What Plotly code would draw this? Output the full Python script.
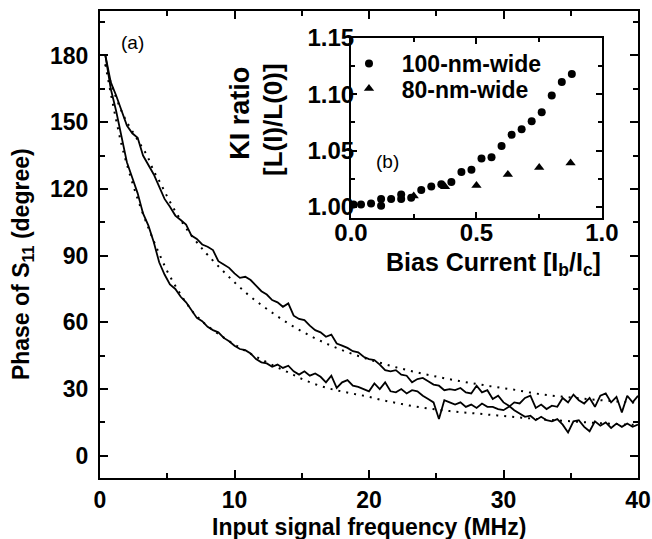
import plotly.graph_objects as go

# ---------------- data ----------------
freq = [0.4, 0.8, 1.2, 1.6, 2.0, 2.4, 2.8, 3.2, 3.6, 4.0,
        4.4, 4.8, 5.2, 5.6, 6.0, 6.4, 6.8, 7.2, 7.6, 8.0,
        8.4, 8.8, 9.2, 9.6, 10.0, 10.4, 10.8, 11.2, 11.6, 12.0,
        12.4, 12.8, 13.2, 13.6, 14.0, 14.4, 14.8, 15.2, 15.6, 16.0,
        16.4, 16.8, 17.2, 17.6, 18.0, 18.4, 18.8, 19.2, 19.6, 20.0,
        20.4, 20.8, 21.2, 21.6, 22.0, 22.4, 22.8, 23.2, 23.6, 24.0,
        24.4, 24.8, 25.2, 25.6, 26.0, 26.4, 26.8, 27.2, 27.6, 28.0,
        28.4, 28.8, 29.2, 29.6, 30.0, 30.4, 30.8, 31.2, 31.6, 32.0,
        32.4, 32.8, 33.2, 33.6, 34.0, 34.4, 34.8, 35.2, 35.6, 36.0,
        36.4, 36.8, 37.2, 37.6, 38.0, 38.4, 38.8, 39.2, 39.6, 40.0]

phase_a = [180, 168, 162, 155, 148.5, 145, 143, 135, 131, 126.5,
           121, 115.5, 112, 108, 106, 104, 99, 97.5, 95, 94,
           92.5, 87.5, 86, 84.5, 82, 80, 80.5, 79, 76.5, 74,
           72.5, 70, 69, 67, 68.5, 63, 61.5, 61, 58.5, 56.5,
           55.5, 53.5, 54.5, 50.5, 49.5, 48.5, 47, 46.5, 44.5, 43.5,
           43, 41, 38.5, 38, 38.5, 36.5, 36, 33, 34.5, 35,
           33.5, 32, 31.5, 29.5, 30, 29.5, 30.5, 28.5, 28, 31.5,
           28.5, 29.5, 25.5, 27, 24, 22.5, 20.5, 19, 17.5, 18,
           16, 17.5, 16, 15.5, 16.5, 14, 10.5, 15.5, 16, 13,
           11, 15.5, 13.5, 15, 12.5, 14.5, 13, 14.5, 13, 14]

phase_b = [180, 165, 155, 143, 132, 125, 118, 109, 103.5, 96,
           87, 81.5, 77, 75, 71.5, 69, 65.5, 62, 60.5, 58,
           56.5, 55.5, 53, 51.5, 49.5, 48, 47.5, 46, 43.5, 42,
           41.5, 40, 41, 39.5, 40.5, 38, 36.5, 38, 36, 37,
           35.5, 33, 36, 30.5, 33, 34, 31.5, 31, 30, 29,
           32.5, 30, 33, 29, 28.5, 30, 28, 29.5, 29, 27,
           25.5, 24, 16.5, 25, 24, 23, 24, 22, 23, 21.5,
           23.5, 22, 22, 21, 20.5, 22, 24, 23.5, 26, 27,
           21.5, 23, 21, 22.5, 22, 26, 24, 27.5, 25, 23.5,
           26, 22, 27, 28, 24, 26.5, 19.5, 27, 24, 27]

fit_freq = [0.4, 0.8, 1.2, 1.6, 2.0, 2.5, 3.0, 3.5, 4.0, 4.5, 5.0, 5.5, 6.0, 6.5,
            7.0, 7.5, 8.0, 9, 10, 11, 12, 13, 14, 15, 16, 17, 18, 19, 20, 21, 22,
            23, 24, 25, 26, 27, 28, 29, 30, 31, 32, 33, 34, 35, 36, 37, 38, 39, 40]
fit_a = [176, 168, 161, 155, 150, 145, 140, 135, 128, 122.5, 116.5, 111, 106, 101.5,
         97.5, 93.8, 90.3, 84, 78, 72.5, 67.8, 63.5, 59.5, 56, 52.8, 50, 47.5, 45.3,
         43.3, 41.5, 39.8, 38.3, 36.9, 35.6, 34.4, 33.3, 32.3, 31.3, 30.4, 29.5, 28.4,
         27.5, 26.8, 26.2, 25.6, 25.1, 24.6, 24.2, 23.8]
fit_b = [176, 163, 151, 140, 131, 121, 112, 104, 96.5, 89.5, 83, 77.5, 72.5, 68,
         64, 61, 58.3, 54, 50, 46.5, 43.3, 40.3, 37.5, 34.6, 32.2, 30.3, 28.9, 27.7,
         26.5, 25, 23.8, 22.6, 21.6, 20.8, 20.1, 19.5, 19, 18.4, 17.9, 17.3, 16.8,
         16.3, 15.9, 15.5, 15.1, 14.7, 14.4, 14.1, 13.8]

bias_100 = [0.01, 0.04, 0.08, 0.12, 0.12, 0.16, 0.20, 0.20, 0.24, 0.28, 0.32, 0.36,
            0.40, 0.44, 0.48, 0.52, 0.56, 0.60, 0.64, 0.68, 0.72, 0.76, 0.80, 0.84, 0.88]
kl_100 = [1.002, 1.002, 1.003, 1.007, 1.001, 1.007, 1.011, 1.007, 1.008, 1.015, 1.018,
          1.020, 1.022, 1.031, 1.033, 1.043, 1.044, 1.054, 1.064, 1.069, 1.076, 1.084,
          1.099, 1.111, 1.118]
bias_80 = [0.25, 0.375, 0.5, 0.625, 0.75, 0.875]
kl_80 = [1.0096, 1.0177, 1.019, 1.0288, 1.035, 1.039]

x_ticks_main = [0, 10, 20, 30, 40]
y_ticks_main = [0, 30, 60, 90, 120, 150, 180]

# ---------------- figure ----------------
FONT = "Liberation Sans, Arial, sans-serif"
BOLD = dict(family=FONT, size=23, color="black", weight="bold")
BOLD24 = dict(family=FONT, size=24, color="black", weight="bold")

fig = go.Figure()
for ys in (phase_a, phase_b):
    fig.add_trace(go.Scatter(x=freq, y=ys, mode="lines",
                             line=dict(color="black", width=1.8),
                             showlegend=False, hoverinfo="skip"))
for ys in (fit_a, fit_b):
    fig.add_trace(go.Scatter(x=fit_freq, y=ys, mode="lines",
                             line=dict(color="black", width=2, dash="2px,6px", shape="spline"),
                             showlegend=False, hoverinfo="skip"))

fig.add_trace(go.Scatter(x=bias_100, y=kl_100, mode="markers",
                         name="\u00a0\u00a0100-nm-wide",
                         marker=dict(symbol="circle", size=8, color="black"),
                         xaxis="x2", yaxis="y2", legend="legend"))
fig.add_trace(go.Scatter(x=bias_80, y=kl_80, mode="markers",
                         name="\u00a0\u00a080-nm-wide",
                         marker=dict(symbol="triangle-up", size=9, color="black"),
                         xaxis="x2", yaxis="y2", legend="legend2"))

common = dict(showline=True, linecolor="black", linewidth=2, mirror="ticks",
              ticks="inside", tickcolor="black", tickwidth=2, showgrid=False,
              zeroline=False, automargin=False)

leg = dict(xanchor="left", yanchor="top", font=BOLD, bgcolor="rgba(0,0,0,0)",
           borderwidth=0, itemwidth=30)

fig.update_layout(
    width=652, height=539,
    margin=dict(l=100, r=14, t=11, b=61, autoexpand=False),
    paper_bgcolor="white", plot_bgcolor="white",
    xaxis=dict(range=[0, 40], tickvals=x_ticks_main, ticklen=8, domain=[0, 1],
               tickfont=BOLD,
               minor=dict(dtick=5, tick0=0, ticks="inside", ticklen=5,
                          tickcolor="black", tickwidth=2), **common),
    yaxis=dict(range=[-10, 200], tickvals=y_ticks_main, ticklen=8, domain=[0, 1],
               tickfont=BOLD, ticklabelstandoff=5,
               minor=dict(dtick=15, tick0=0, ticks="inside", ticklen=5,
                          tickcolor="black", tickwidth=2), **common),
    xaxis2=dict(domain=[0.4665, 0.933], anchor="y2", range=[0, 1], dtick=0.5, tick0=0,
                tickformat=".1f", ticklen=6, ticklabelstandoff=-8, tickfont=BOLD24,
                minor=dict(dtick=0.25, tick0=0, ticks="inside", ticklen=4,
                           tickcolor="black", tickwidth=1.5), **common),
    yaxis2=dict(domain=[0.5567, 0.942], anchor="x2", range=[0.99, 1.15], dtick=0.05,
                tick0=1.0, tickformat=".2f", ticklen=6, ticklabelstandoff=-10,
                tickfont=BOLD24,
                minor=dict(dtick=0.025, tick0=1.0, ticks="inside", ticklen=4,
                           tickcolor="black", tickwidth=1.5), **common),
    legend=dict(x=0.4628, y=0.9336, **leg),
    legend2=dict(x=0.4628, y=0.8799, **leg),
)

ann = [
    dict(text="Input signal frequency (MHz)", x=0.5, y=-0.105, textangle=0, size=23),
    dict(text="Phase of S<sub>11</sub> (degree)", x=-0.145, y=0.458, textangle=-90, size=23),
    dict(text="KI ratio", x=0.260, y=0.7816, textangle=-90, size=27),
    dict(text="[L(I)/L(0)]", x=0.3216, y=0.7666, textangle=-90, size=26),
    dict(text="Bias Current [I<sub>b</sub>/I<sub>c</sub>]", x=0.7305, y=0.458, textangle=0, size=25),
]
for a in ann:
    size = a.pop("size")
    fig.add_annotation(xref="paper", yref="paper", showarrow=False,
                       xanchor="center", yanchor="middle",
                       font=dict(family=FONT, size=size, color="black", weight="bold"), **a)

fig.add_annotation(text="(a)", xref="paper", yref="paper", x=0.0595, y=0.9336,
                   showarrow=False, xanchor="center", yanchor="middle",
                   font=dict(family=FONT, size=19, color="black"))
fig.add_annotation(text="(b)", xref="paper", yref="paper", x=0.5335, y=0.6767,
                   showarrow=False, xanchor="center", yanchor="middle",
                   font=dict(family=FONT, size=19, color="black"))

fig.write_html("out.html", config={"displayModeBar": False},
               post_script="document.body.style.margin='0';document.body.style.overflow='hidden';")
